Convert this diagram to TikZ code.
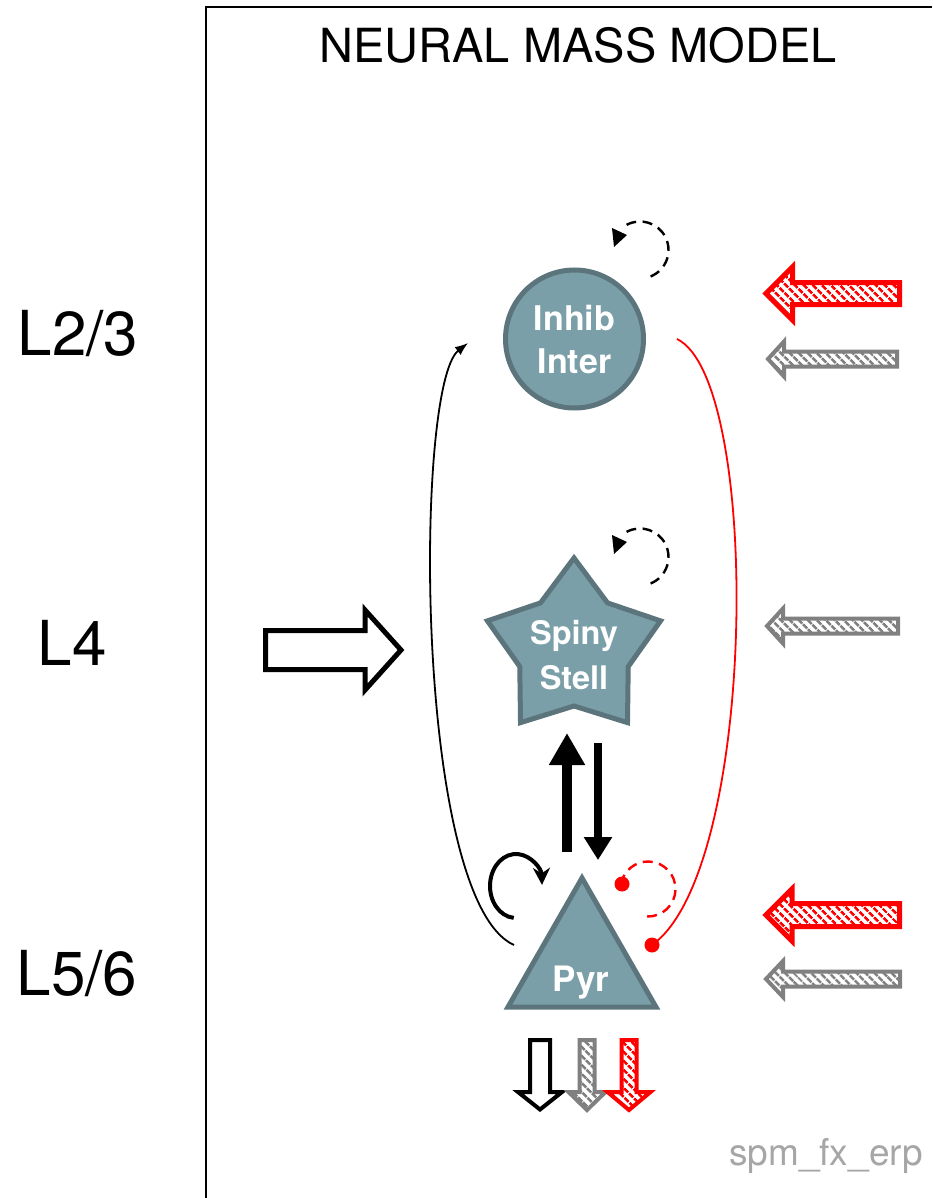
\documentclass[tikz,border=0pt]{standalone}
\usepackage{fontspec}
\setmainfont{TeX Gyre Heros}
\usetikzlibrary{arrows.meta,patterns.meta}

\definecolor{cellfill}{RGB}{122,159,168}
\definecolor{celledge}{RGB}{92,117,125}
\definecolor{inputgray}{RGB}{128,128,128}
\definecolor{notegray}{RGB}{166,166,166}

\begin{document}
\begin{tikzpicture}[x=1pt,y=-1pt,
  cell/.style={fill=cellfill,draw=celledge,line width=5pt,line join=miter},
  celltext/.style={text=white,align=center,inner sep=0pt},
  layer/.style={font=\fontsize{62}{70}\selectfont,anchor=base},
  thinlink/.style={line width=1.8pt},
  selfloop/.style={line width=2.4pt,dash pattern=on 10pt off 6.5pt},
  blockout/.style={draw=black,fill=white,line width=5pt},
  redhatch/.style={draw=red,line width=5pt,
    pattern={Lines[angle=-45,distance=6.5pt,line width=3pt]},pattern color=red},
  grayhatch/.style={draw=inputgray,line width=4pt,
    pattern={Lines[angle=-45,distance=6.5pt,line width=3pt]},pattern color=inputgray},
  % block arrows: length / shaft half-width / head half-width / head length
  pics/rightarrow/.style args={#1/#2/#3/#4}{code={
    \path[pic actions] (0,#2) -- ({#1-#4},#2) -- ({#1-#4},#3) -- (#1,0)
      -- ({#1-#4},-#3) -- ({#1-#4},-#2) -- (0,-#2) -- cycle;
  }},
  pics/leftarrow/.style args={#1/#2/#3/#4}{code={
    \path[pic actions] (0,#2) -- ({#4-#1},#2) -- ({#4-#1},#3) -- (-#1,0)
      -- ({#4-#1},-#3) -- ({#4-#1},-#2) -- (0,-#2) -- cycle;
  }},
  pics/downarrow/.style args={#1/#2/#3/#4}{code={
    \path[pic actions] (#2,0) -- (#2,{#1-#4}) -- (#3,{#1-#4}) -- (0,#1)
      -- (-#3,{#1-#4}) -- (-#2,{#1-#4}) -- (-#2,0) -- cycle;
  }}
]
\useasboundingbox (0,0) rectangle (932,1198);

% frame
\draw[line width=2pt] (206,1198) -- (206,7) -- (932,7);

% titles and layer labels
\node[anchor=base,font=\fontsize{47}{55}\selectfont] (title) at (578,63) {NEURAL MASS MODEL};
\node[layer] (l23) at (78,355) {L2/3};
\node[layer] (l4) at (72,665) {L4};
\node[layer] (l56) at (77,995) {L5/6};
\node[anchor=base,text=notegray,font=\fontsize{37}{44}\selectfont] (fname) at (826,1165) {spm\_fx\_erp};

% inhibitory interneurons
\node[cell,circle,minimum size=138pt,celltext,
  font=\bfseries\fontsize{34}{43}\selectfont] (inhib) at (574.5,339) {Inhib\\Inter};

% spiny stellate cells
\begin{scope}[shift={(574,649)}]
  \draw[cell] (270:91) -- (306:57) -- (342:91) -- (18:57) -- (54:91) -- (90:57)
    -- (126:91) -- (162:57) -- (198:91) -- (234:57) -- cycle;
\end{scope}
\node[celltext,font=\bfseries\fontsize{32.5}{45}\selectfont] (spiny) at (574,655.5) {Spiny\\Stell};

% pyramidal cells
\draw[cell] (582,878) -- (656,1007) -- (508,1007) -- cycle;
\node[celltext,anchor=base,font=\bfseries\fontsize{35}{40}\selectfont] (pyr) at (581,991) {Pyr};

% connector end points
\coordinate (pyrW) at (514,945);
\coordinate (pyrE) at (652,945);
\coordinate (inhibW) at ([xshift=-35pt,yshift=-4pt]inhib.west);
\coordinate (inhibE) at ([xshift=31pt]inhib.east);
\coordinate (spinyS1) at (567,733);
\coordinate (pyrN1) at (567,852);
\coordinate (spinyS2) at (598,743);
\coordinate (pyrN2) at (598,860);

% pyramidal -> inhibitory (excitatory)
\draw[thinlink,-{Latex[length=13pt,width=10pt]}] (pyrW) .. controls (414,900) and (414,385) .. (inhibW);
% inhibitory -> pyramidal (inhibitory)
\draw[thinlink,red] (inhibE) .. controls (762,380) and (758,870) .. (pyrE);
\fill[red] (pyrE) circle[radius=7.5];

% stellate <-> pyramidal
\draw[line width=10pt,-{Triangle[length=32pt,width=34pt]}] (pyrN1) -- (spinyS1);
\draw[line width=8pt,-{Triangle[length=23pt,width=27pt]}] (spinyS2) -- (pyrN2);

% self connections
\coordinate (inhibloop) at (640,250);
\draw[selfloop] (inhibloop) ++(-118:28.5) arc[start angle=-118,end angle=80,radius=28.5];
\fill (612,228) -- (627,235) -- (614,247) -- cycle;

\coordinate (spinyloop) at (640,557);
\draw[selfloop] (spinyloop) ++(-118:28.5) arc[start angle=-118,end angle=80,radius=28.5];
\fill (612,535) -- (627,542) -- (614,554) -- cycle;

\coordinate (pyrloop) at (516,886);
\draw[line width=4pt,-{Stealth[length=17pt,width=17pt]}] (pyrloop) ++(95:26 and 32)
  arc[start angle=95,end angle=358,x radius=26,y radius=32];

\coordinate (pyrloopr) at (648,889);
\draw[selfloop,red] (pyrloopr) ++(92:27.5) arc[start angle=92,end angle=-169,radius=27.5];
\fill[red] (622,884) circle[radius=7.5];

% exogenous input to L4
\pic[blockout] at (265.5,650) {rightarrow=135.5/19.5/40/36};

% extrinsic inputs
\pic[redhatch] at (899.5,293.5) {leftarrow=133.5/11/26.5/26.5};
\pic[grayhatch] at (897,359) {leftarrow=129/7.5/17.5/16};
\pic[grayhatch] at (898,626) {leftarrow=131/7.5/17.5/16};
\pic[redhatch] at (899.5,915) {leftarrow=133.5/11.5/26/26};
\pic[grayhatch] at (900,979) {leftarrow=134/7.5/18/17};

% outputs from pyramidal cells
\pic[blockout,line width=4pt] at (540,1040) {downarrow=69.5/10/22/17.5};
\pic[grayhatch] at (587,1040) {downarrow=70/7.5/18.5/18};
\pic[redhatch,line width=4pt] at (629,1040) {downarrow=70/7.5/21.5/18};
\end{tikzpicture}
\end{document}
